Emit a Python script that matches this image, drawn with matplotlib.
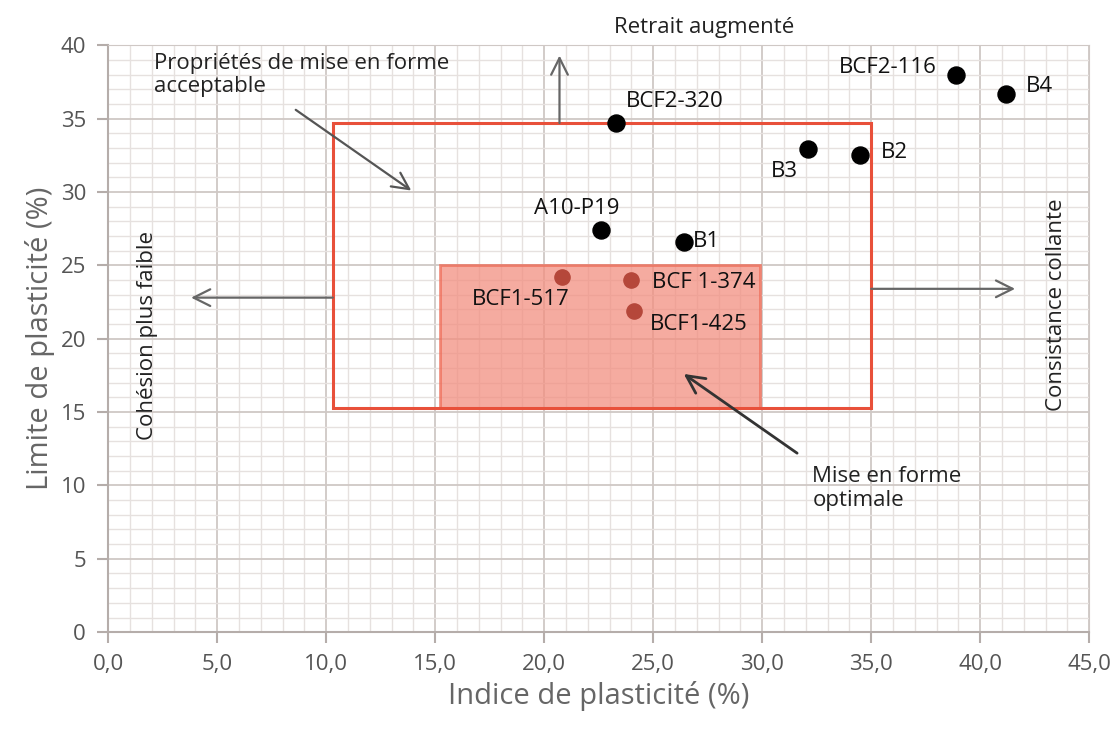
import matplotlib.pyplot as plt
from matplotlib.patches import Rectangle
from matplotlib.ticker import MultipleLocator, FuncFormatter

plt.rcParams['font.family'] = ['Open Sans', 'DejaVu Sans']

# échantillons (indice de plasticité, limite de plasticité)
noms_noirs = ["BCF2-320", "BCF2-116", "B4", "B3", "B2", "A10-P19", "B1"]
ip_noirs = [23.3, 38.9, 41.2, 32.1, 34.5, 22.6, 26.4]
lp_noirs = [34.7, 38.0, 36.7, 32.9, 32.5, 27.4, 26.6]

noms_rouges = ["BCF1-517", "BCF 1-374", "BCF1-425"]
ip_rouges = [20.8, 24.0, 24.1]
lp_rouges = [24.2, 24.0, 21.9]

# zones (x0, y0, x1, y1)
zone_acceptable = (10.3, 15.3, 35.0, 34.7)
zone_optimale = (15.2, 15.3, 29.9, 25.0)

fig = plt.figure(figsize=(11.16, 7.3), dpi=100)
ax = fig.add_axes([0.097, 0.134, 0.879, 0.804])
ax.set_xlim(0, 45)
ax.set_ylim(0, 40)

# grille
ax.xaxis.set_major_locator(MultipleLocator(5))
ax.yaxis.set_major_locator(MultipleLocator(5))
ax.xaxis.set_minor_locator(MultipleLocator(1))
ax.yaxis.set_minor_locator(MultipleLocator(1))
ax.grid(which='major', color='#cfc8c5', lw=1.3)
ax.grid(which='minor', color='#e6e1df', lw=1.0)
ax.set_axisbelow(True)
for s in ax.spines.values():
    s.set_color('#cfc8c5')
ax.spines['left'].set_color('#b5adaa')
ax.spines['bottom'].set_color('#b5adaa')
ax.spines['left'].set_linewidth(1.5)
ax.spines['bottom'].set_linewidth(1.5)
ax.tick_params(which='major', length=8, width=1.5, color='#b5adaa',
               labelsize=16, labelcolor='#555555', pad=8)
ax.tick_params(which='minor', length=0)
ax.xaxis.set_major_formatter(FuncFormatter(lambda v, p: f"{v:.1f}".replace('.', ',')))

ax.set_xlabel("Indice de plasticité (%)", fontsize=21, color='#666666', labelpad=4)
ax.set_ylabel("Limite de plasticité (%)", fontsize=21, color='#666666', labelpad=4)

# zones
x0, y0, x1, y1 = zone_optimale
ax.add_patch(Rectangle((x0, y0), x1 - x0, y1 - y0, facecolor='#f28f80', alpha=0.75,
                       edgecolor='#ee6a55', lw=2, zorder=2))
x0, y0, x1, y1 = zone_acceptable
ax.add_patch(Rectangle((x0, y0), x1 - x0, y1 - y0, facecolor='none',
                       edgecolor='#e8503a', lw=2.2, zorder=3))

# flèches directionnelles
fleche = dict(arrowstyle='->', color='#666666', lw=1.6, mutation_scale=30,
              shrinkA=0, shrinkB=0)
ax.annotate("", xy=(20.7, 39.3), xytext=(20.7, 34.7), arrowprops=fleche, zorder=4)
ax.annotate("", xy=(3.8, 22.8), xytext=(10.3, 22.8), arrowprops=fleche, zorder=4)
ax.annotate("", xy=(41.6, 23.4), xytext=(35.0, 23.4), arrowprops=fleche, zorder=4)

ax.text(0.607, 1.012, "Retrait augmenté", transform=ax.transAxes, fontsize=16,
        color='#222222', ha='center', va='bottom')
ax.text(1.8, 20.2, "Cohésion plus faible", rotation=90, fontsize=16,
        color='#222222', ha='center', va='center')
ax.text(43.5, 22.3, "Consistance collante", rotation=90, fontsize=16,
        color='#222222', ha='center', va='center')

# annotations des zones
ax.text(2.1, 39.5, "Propriétés de mise en forme\nacceptable", fontsize=16,
        color='#222222', ha='left', va='top', linespacing=1.15)
ax.annotate("", xy=(13.9, 30.1), xytext=(8.6, 35.6),
            arrowprops=dict(arrowstyle='->', color='#555555', lw=1.6, mutation_scale=30,
                            shrinkA=0, shrinkB=0), zorder=4)
ax.annotate("", xy=(26.4, 17.6), xytext=(31.6, 12.2),
            arrowprops=dict(arrowstyle='->', color='#333333', lw=2, mutation_scale=32,
                            shrinkA=0, shrinkB=0), zorder=4)
ax.text(32.3, 11.3, "Mise en forme\noptimale", fontsize=16, color='#222222',
        ha='left', va='top', linespacing=1.15)

# points
ax.scatter(ip_noirs, lp_noirs, s=150, color='black', zorder=5)
ax.scatter(ip_rouges, lp_rouges, s=120, color='#b5473a', zorder=5)

decal = {"BCF2-320": (0.45, 1.5, 'left'), "BCF2-116": (-0.9, 0.5, 'right'),
         "B4": (0.9, 0.5, 'left'), "B3": (-0.45, -1.5, 'right'),
         "B2": (0.95, 0.2, 'left'), "A10-P19": (-1.1, 1.5, 'center'),
         "B1": (0.4, 0.0, 'left'), "BCF1-517": (-1.9, -1.5, 'center'),
         "BCF 1-374": (0.95, -0.2, 'left'), "BCF1-425": (0.75, -0.9, 'left')}
for n, x, y in zip(noms_noirs + noms_rouges, ip_noirs + ip_rouges, lp_noirs + lp_rouges):
    dx, dy, ha = decal[n]
    ax.text(x + dx, y + dy, n, fontsize=16, color='#111111', ha=ha, va='center', zorder=6)

fig.savefig('out.png', dpi=100)
